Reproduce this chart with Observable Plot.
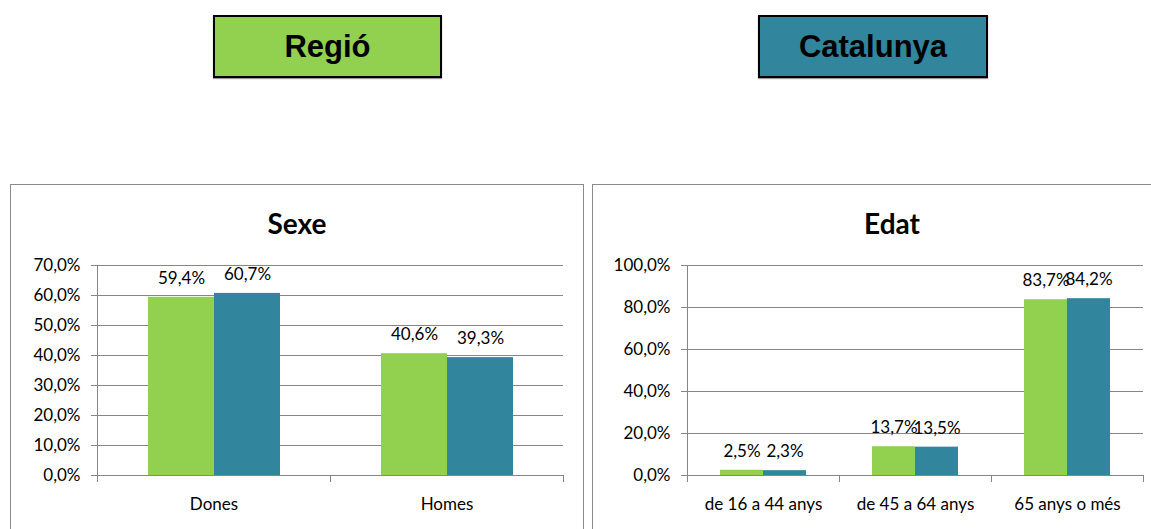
<!DOCTYPE html>
<html>
<head>
<meta charset="utf-8">
<script src="https://cdn.jsdelivr.net/npm/d3@7"></script>
<script src="https://cdn.jsdelivr.net/npm/@observablehq/plot@0.6"></script>
<style>
  html, body { margin: 0; padding: 0; background: #fff; }
  body { position: relative; width: 1151px; height: 529px; overflow: hidden; font-family: Lato, "Open Sans", sans-serif; }
  .legend { position: absolute; box-sizing: border-box; border: 2px solid #000; box-shadow: 0 1px 1px #999;
            display: flex; align-items: center; justify-content: center;
            font-family: "Liberation Sans", Arial, sans-serif; font-weight: bold; font-size: 31px; color: #000; }
  .panel { position: absolute; box-sizing: border-box; border: 1.5px solid #8a8a8a; background: #fff; }
  .title { position: absolute; left: 0; right: 0; top: 20px; text-align: center; font-family: Lato, sans-serif;
           font-weight: bold; font-size: 28px; color: #000; line-height: 36px; }
  .chart { position: absolute; }
</style>
</head>
<body>
<div class="legend" style="left:213px; top:15px; width:229px; height:63px; background:#92D050;">Regió</div>
<div class="legend" style="left:758px; top:15px; width:230px; height:63px; background:#31859C;">Catalunya</div>

<div class="panel" style="left:10px; top:184px; width:574px; height:400px;"><div class="title">Sexe</div></div>
<div class="panel" style="left:592px; top:184px; width:600px; height:400px;"><div class="title">Edat</div></div>

<div class="chart" id="sexe" style="left:10px; top:245px;"></div>
<div class="chart" id="edat" style="left:592px; top:245px;"></div>

<script>
const series = ["Regió", "Catalunya"];
const seriesColors = ["#92D050", "#31859C"];

const sexeCategories = ["Dones", "Homes"];
const sexeRegio = [59.4, 40.6];
const sexeCatalunya = [60.7, 39.3];
const sexeTicks = [0, 10, 20, 30, 40, 50, 60, 70];

const edatCategories = ["de 16 a 44 anys", "de 45 a 64 anys", "65 anys o més"];
const edatRegio = [2.5, 13.7, 83.7];
const edatCatalunya = [2.3, 13.5, 84.2];
const edatTicks = [0, 20, 40, 60, 80, 100];

const fmt = v => v.toFixed(1).replace(".", ",") + "%";
const axisGray = "#868686";

function chart({categories, regio, catalunya, ticks, width, marginLeft, marginRight}) {
  const data = categories.flatMap((c, i) => [
    {cat: c, series: series[0], value: regio[i]},
    {cat: c, series: series[1], value: catalunya[i]}
  ]);
  const marginTop = 20, marginBottom = 50, height = 280;
  const H = height - marginTop - marginBottom;
  return Plot.plot({
    width, height, marginTop, marginBottom, marginLeft, marginRight,
    style: {fontFamily: "Lato, sans-serif", fontSize: "17px", color: "#000", background: "transparent", overflow: "visible"},
    fx: {domain: categories, padding: 0, label: null},
    x: {domain: series, paddingInner: 0, paddingOuter: 0.75, axis: null},
    y: {domain: [0, d3.max(ticks)]},
    color: {domain: series, range: seriesColors},
    marks: [
      Plot.ruleY(ticks, {stroke: axisGray, strokeWidth: 1}),
      Plot.barY(data, {fx: "cat", x: "series", y: "value", fill: "series", inset: 0}),
      Plot.text(data, {fx: "cat", x: "series", y: "value", text: d => fmt(d.value), dy: -19, fill: "#000"}),
      Plot.axisY({ticks, tickFormat: fmt, tickSize: 6, tickPadding: 11, stroke: axisGray, fill: "#000", label: null}),
      Plot.axisFx({anchor: "bottom", tickSize: 0, tickPadding: 22, label: null, fill: "#000"}),
      Plot.frame({anchor: "left", facet: "super", insetBottom: -6, stroke: axisGray}),
      Plot.frame({anchor: "left", insetTop: H, insetBottom: -6, stroke: axisGray}),
      Plot.frame({anchor: "right", insetTop: H, insetBottom: -6, stroke: axisGray})
    ]
  });
}

document.getElementById("sexe").append(chart({
  categories: sexeCategories, regio: sexeRegio, catalunya: sexeCatalunya, ticks: sexeTicks,
  width: 573, marginLeft: 87, marginRight: 20
}));
document.getElementById("edat").append(chart({
  categories: edatCategories, regio: edatRegio, catalunya: edatCatalunya, ticks: edatTicks,
  width: 559, marginLeft: 95, marginRight: 8
}));
</script>
</body>
</html>
